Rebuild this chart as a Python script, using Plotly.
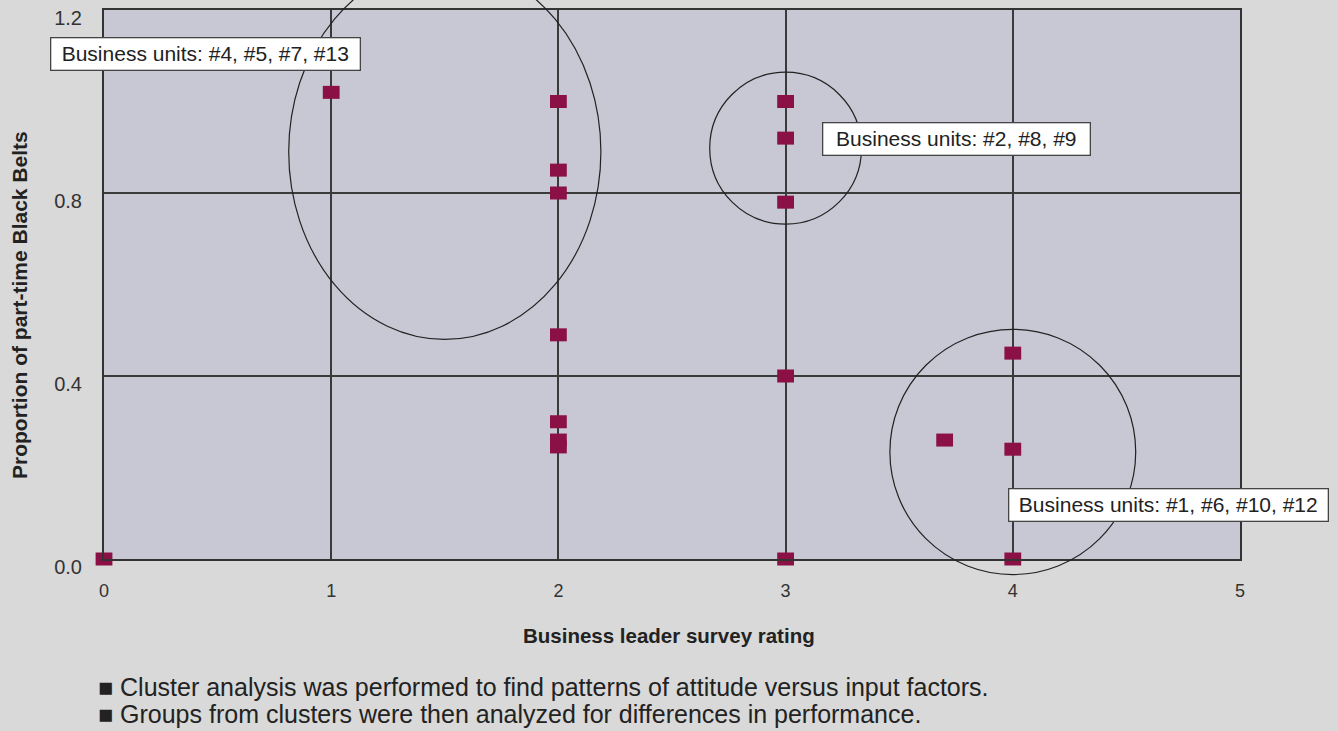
import plotly.graph_objects as go

# Data
rating = [0, 1, 2, 2, 2, 2, 2, 2, 2, 3, 3, 3, 3, 3, 3.7, 4, 4, 4]
proportion = [0.0, 1.02, 1.0, 0.85, 0.8, 0.49, 0.30, 0.26, 0.245, 1.0, 0.92, 0.78, 0.40, 0.0, 0.26, 0.45, 0.24, 0.0]

# Clusters: center x, center y, radius x (rating units), radius y (proportion units)
cluster_cx = [1.5, 3.0, 4.0]
cluster_cy = [0.89, 0.898, 0.234]
cluster_rx = [0.687, 0.334, 0.541]
cluster_ry = [0.410, 0.166, 0.268]

label_text = ["Business units: #4, #5, #7, #13", "Business units: #2, #8, #9", "Business units: #1, #6, #10, #12"]
label_x = [0.445, 3.75, 4.687]
label_y = [1.103, 0.918, 0.119]
label_w = [306, 264, 316]

x_ticks = [0, 1, 2, 3, 4, 5]
y_ticks = [0.0, 0.4, 0.8, 1.2]
y_tick_text = ["0.0", "0.4", "0.8", "1.2"]

x_title = "Business leader survey rating"
y_title = "Proportion of part-time Black Belts"

notes = ["■ Cluster analysis was performed to find patterns of attitude versus input factors.",
         "■ Groups from clusters were then analyzed for differences in performance."]

XMAX, YMAX = 5, 1.2
FONT = "Liberation Sans, Arial, sans-serif"
DARK = "#333333"

fig = go.Figure()
fig.add_trace(go.Scatter(
    x=rating, y=proportion, mode="markers", cliponaxis=False,
    marker=dict(symbol="line-ew", size=12, color="#8a1046",
                line=dict(color="#8a1046", width=13)),
    hoverinfo="x+y", showlegend=False))

shapes = []
for cx, cy, rx, ry in zip(cluster_cx, cluster_cy, cluster_rx, cluster_ry):
    shapes.append(dict(type="circle", xref="paper", yref="paper",
                       x0=(cx - rx) / XMAX, x1=(cx + rx) / XMAX,
                       y0=(cy - ry) / YMAX, y1=(cy + ry) / YMAX,
                       line=dict(color="#222222", width=1.2), layer="above"))

annotations = []
for t, x, y, w in zip(label_text, label_x, label_y, label_w):
    annotations.append(dict(text=t, x=x, y=y, xref="x", yref="y", showarrow=False,
                            xanchor="center", yanchor="middle", width=w, height=29,
                            bgcolor="white", bordercolor="#444444", borderwidth=1.3,
                            font=dict(family=FONT, size=21, color="#222222")))
W, H = 1338, 731
ML, MR, MT, MB = 104, 98, 10, 172
pw, ph = W - ML - MR, H - MT - MB


def px_x(p):
    return (p - ML) / pw


def px_y(p):
    return (H - MB - p) / ph


for i, n in enumerate(notes):
    annotations.append(dict(text=n, x=px_x(96), y=px_y(687 + 27 * i),
                            xref="paper", yref="paper",
                            showarrow=False, xanchor="left", yanchor="middle",
                            font=dict(family=FONT, size=25, color="#222222")))

annotations.append(dict(text="<b>" + x_title + "</b>", x=px_x(669), y=px_y(635), xref="paper", yref="paper",
                        showarrow=False, xanchor="center", yanchor="middle",
                        font=dict(family=FONT, size=20.5, color="#222222")))
annotations.append(dict(text="<b>" + y_title + "</b>", x=px_x(19), y=px_y(305), xref="paper", yref="paper",
                        showarrow=False, xanchor="center", yanchor="middle", textangle=-90,
                        font=dict(family=FONT, size=21, color="#222222")))

fig.update_layout(
    width=W, height=H,
    margin=dict(l=ML, r=MR, t=MT, b=MB, autoexpand=False),
    paper_bgcolor="#d8d9d8", plot_bgcolor="#c8c8d4",
    font=dict(family=FONT, color=DARK),
    shapes=shapes, annotations=annotations,
    xaxis=dict(range=[0, XMAX], tickvals=x_ticks, showgrid=True, gridcolor="#3a3a3a", gridwidth=1.5,
               showline=True, linecolor=DARK, linewidth=2, mirror=True, zeroline=False, automargin=False,
               ticks="", ticklabelstandoff=14, tickfont=dict(size=18, color=DARK)),
    yaxis=dict(range=[0, YMAX], tickvals=y_ticks, ticktext=y_tick_text, showgrid=True, gridcolor="#3a3a3a", gridwidth=1.5,
               showline=True, linecolor=DARK, linewidth=2, mirror=True, zeroline=False, automargin=False,
               ticks="", ticklabelstandoff=16, ticklabelshift=8, tickfont=dict(size=20, color=DARK)),
)

fig.write_html("out.html", config={"displayModeBar": False},
               post_script="document.body.style.margin='0';document.body.style.padding='0';")
